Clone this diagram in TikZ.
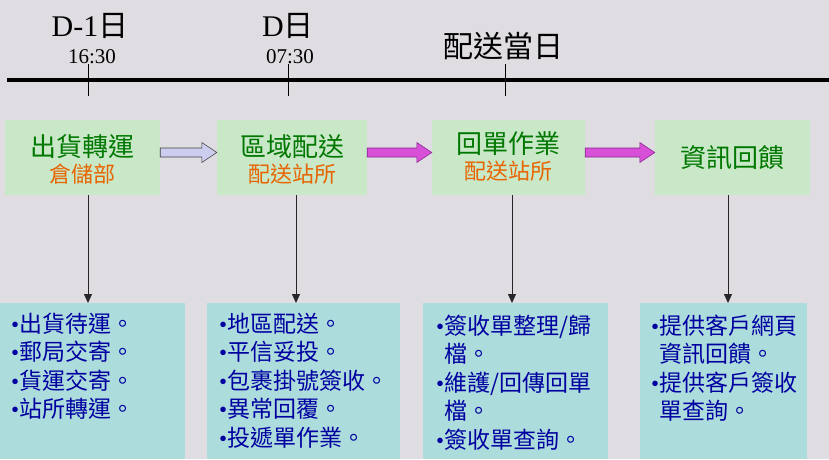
\documentclass[tikz,border=0pt]{standalone}
\usepackage{fontspec}
\setmainfont{Liberation Serif}
\newfontfamily\cjk{Noto Sans CJK TC}
\usetikzlibrary{arrows.meta,calc}

\definecolor{paper}{RGB}{224,221,226}
\definecolor{stagegreen}{RGB}{200,232,200}
\definecolor{listcyan}{RGB}{172,220,220}
\definecolor{titlegreen}{RGB}{0,120,0}
\definecolor{suborange}{RGB}{232,100,0}
\definecolor{listblue}{RGB}{0,0,160}
\definecolor{lavender}{RGB}{205,205,240}
\definecolor{magentafill}{RGB}{215,80,215}
\definecolor{magentaline}{RGB}{130,40,140}

\newcommand\bul{{\rmfamily\textbullet}}

\tikzset{
  stagebox/.style={fill=stagegreen, minimum width=153pt, minimum height=75pt, inner sep=0pt},
  listbox/.style={fill=listcyan, anchor=north west, minimum height=156pt, inner sep=0pt},
  stagetitle/.style={font=\cjk\fontsize{26}{28}\selectfont, text=titlegreen, inner sep=0pt},
  stagesub/.style={font=\cjk\fontsize{22}{24}\selectfont, text=suborange, inner sep=0pt},
  listtext/.style={font=\cjk\fontsize{23}{28.5}\selectfont, text=listblue, anchor=base west,
    text width=190pt, align=left, inner sep=0pt},
  daylabel/.style={font=\fontsize{30}{30}\selectfont, inner sep=0pt},
  timelabel/.style={font=\fontsize{21}{21}\selectfont, inner sep=0pt},
  fatarrow/.style={to path={let \p1=(\tikztostart), \p2=(\tikztotarget) in
    (\x1,\y1+4.5pt) -- (\x2-15pt,\y1+4.5pt) -- (\x2-15pt,\y1+10pt) -- (\x2,\y1)
    -- (\x2-15pt,\y1-10pt) -- (\x2-15pt,\y1-4.5pt) -- (\x1,\y1-4.5pt) -- cycle}},
  drop/.style={line width=0.8pt, draw=black!85, -{Triangle[length=9pt,width=8pt]}}
}

\begin{document}
\begin{tikzpicture}[x=1pt,y=-1pt]
  \fill[paper] (0,0) rectangle (829,459);
  \useasboundingbox (0,0) rectangle (829,459);

  % time line
  \draw[line width=4pt] (7,80) -- (829,80);
  \draw[line width=0.8pt] (88,64) -- (88,96);
  \draw[line width=0.8pt] (288,64) -- (288,96);
  \draw[line width=0.8pt] (505,64) -- (505,96);

  \node[daylabel] (d1) at (90,26) {D-1{\cjk 日}};
  \node[timelabel] (d1t) at (92,57) {16:30};
  \node[daylabel] (d0) at (288,26) {D{\cjk 日}};
  \node[timelabel] (d0t) at (290,57) {07:30};
  \node[daylabel, font=\cjk\fontsize{30}{30}\selectfont] (dd) at (503,46) {配送當日};

  % stages
  \node[stagebox, minimum width=155pt] (s1) at (82.5,157.5) {};
  \node[stagebox, minimum width=150pt] (s2) at (292,157.5) {};
  \node[stagebox] (s3) at (508.5,157.5) {};
  \node[stagebox, minimum width=155pt] (s4) at (732.5,157.5) {};

  \node[stagetitle] (s1t) at ([yshift=11pt]s1.center) {出貨轉運};
  \node[stagesub] (s1s) at ([yshift=-17pt]s1.center) {倉儲部};
  \node[stagetitle] (s2t) at ([yshift=11pt]s2.center) {區域配送};
  \node[stagesub] (s2s) at ([yshift=-17pt]s2.center) {配送站所};
  \node[stagetitle] (s3t) at ([yshift=14pt]s3.center) {回單作業};
  \node[stagesub] (s3s) at ([yshift=-14pt]s3.center) {配送站所};
  \node[stagetitle] (s4t) at (s4.center) {資訊回饋};

  \draw[fatarrow, fill=lavender, draw=black!75, line width=0.6pt] ([yshift=5pt]s1.east) to (s2.west);
  \draw[fatarrow, fill=magentafill, draw=magentaline, line width=0.6pt] ([yshift=5pt]s2.east) to (s3.west);
  \draw[fatarrow, fill=magentafill, draw=magentaline, line width=0.6pt] ([yshift=5pt]s3.east) to (s4.west);

  % lists
  \node[listbox, minimum width=185pt] (l1) at (0,303) {};
  \node[listbox, minimum width=193pt] (l2) at (207,303) {};
  \node[listbox, minimum width=185pt] (l3) at (423,303) {};
  \node[listbox, minimum width=167pt] (l4) at (640,303) {};

  \draw[drop] ([xshift=5.5pt]s1.south) -- ([xshift=5.5pt]s1.south |- l1.north);
  \draw[drop] ([xshift=4pt]s2.south) -- ([xshift=4pt]s2.south |- l2.north);
  \draw[drop] ([xshift=3.5pt]s3.south) -- ([xshift=3.5pt]s3.south |- l3.north);
  \draw[drop] ([xshift=-4.5pt]s4.south) -- ([xshift=-4.5pt]s4.south |- l4.north);

  \node[listtext] (l1t) at (11,332) {\bul 出貨待運。\\\bul 郵局交寄。\\\bul 貨運交寄。\\\bul 站所轉運。};
  \node[listtext] (l2t) at (219,332) {\bul 地區配送。\\\bul 平信妥投。\\\bul 包裹掛號簽收。\\\bul 異常回覆。\\\bul 投遞單作業。};
  \node[listtext] (l3t) at (436,334) {\bul 簽收單整理/歸\\\hphantom{\bul}檔。\\\bul 維護/回傳回單\\\hphantom{\bul}檔。\\\bul 簽收單查詢。};
  \node[listtext] (l4t) at (651,334) {\bul 提供客戶網頁\\\hphantom{\bul}資訊回饋。\\\bul 提供客戶簽收\\\hphantom{\bul}單查詢。};
\end{tikzpicture}
\end{document}
